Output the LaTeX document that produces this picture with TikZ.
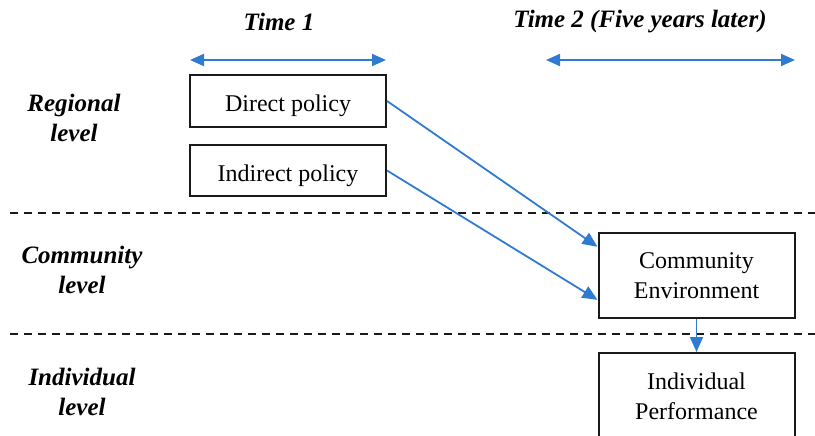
\documentclass[tikz,border=0pt]{standalone}
\usepackage{fontspec}
\setmainfont{Liberation Serif}
\usepackage{xcolor}
\usepackage{tikz}
\usetikzlibrary{arrows.meta,positioning,calc}
\definecolor{timeBlue}{HTML}{2F7BD2}
\definecolor{ink}{HTML}{1A1A1A}

\begin{document}
\begin{tikzpicture}[x=1pt,y=-1pt,
    box/.style={draw=ink,line width=2pt,minimum width=196pt,align=center,font=\fontsize{24}{30}\selectfont},
    lvl/.style={align=center,font=\fontsize{25}{30}\selectfont\bfseries\itshape},
    link/.style={draw=timeBlue,line width=1.8pt,-{Triangle[length=15pt,width=13pt]}},
    span/.style={draw=timeBlue,line width=2pt,{Triangle[length=14pt,width=12pt]}-{Triangle[length=14pt,width=12pt]}},
    sep/.style={draw=ink,line width=2pt,dash pattern=on 8pt off 6pt}]
    \useasboundingbox (0,0) rectangle (815,436);
    \clip (0,0) rectangle (815,436);
    % time headers
    \node[lvl] (t1) at (279,22) {Time 1};
    \node[lvl] (t2) at (640,22) {Time 2 (Five years later)};
    \coordinate (t1a) at (190,60);
    \coordinate (t1b) at (386,60);
    \coordinate (t2a) at (546,60);
    \coordinate (t2b) at (795,60);
    \draw[span] (t1a) -- (t1b);
    \draw[span] (t2a) -- (t2b);
    % level labels
    \node[lvl] (regional) at (74,118) {Regional\\level};
    \node[lvl] (community) at (82,270) {Community\\level};
    \node[lvl] (individual) at (82,392) {Individual\\level};
    % separators
    \coordinate (s1a) at (10,213);
    \coordinate (s1b) at (815,213);
    \coordinate (s2a) at (10,334);
    \coordinate (s2b) at (815,334);
    \draw[sep] (s1a) -- (s1b);
    \draw[sep] (s2a) -- (s2b);
    % boxes
    \node[box,minimum height=52pt,text height=24pt,text depth=3pt] (direct) at (288,101) {Direct policy};
    \node[box,minimum height=51pt,text height=24pt,text depth=3pt] (indirect) at (288,170.5) {Indirect policy};
    \node[box,minimum height=85pt] (env) at (696.5,275.5) {Community\\Environment};
    \node[box,minimum height=86pt,anchor=north] (perf) at (696.5,352) {Individual\\Performance};
    % links
    \draw[link] (direct.east) -- ($(env.north west)!0.17!(env.south west)$);
    \draw[link] (indirect.east) -- ($(env.north west)!0.78!(env.south west)$);
    \draw[link] (env.south) -- (perf.north);
\end{tikzpicture}
\end{document}
